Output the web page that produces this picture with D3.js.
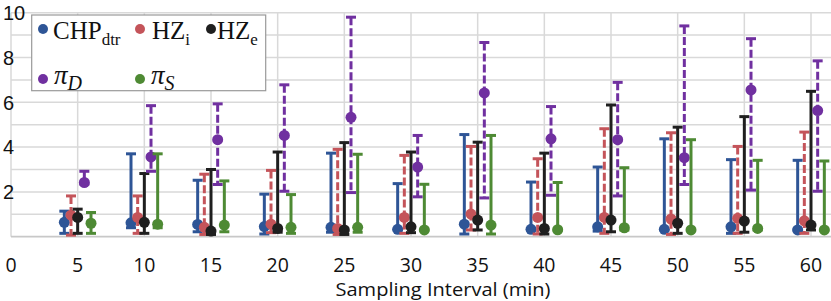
<!DOCTYPE html>
<html><head><meta charset="utf-8">
<script src="https://cdn.jsdelivr.net/npm/d3@7"></script>
<style>html,body{margin:0;padding:0;background:#fff;overflow:hidden}</style>
</head><body><svg id="c" width="831" height="301"></svg>
<script>
const categories = [5,10,15,20,25,30,35,40,45,50,55,60];
const xTicks = [0,5,10,15,20,25,30,35,40,45,50,55,60];
const yTicks = [2,4,6,8,10];

const chpMean = [0.64,0.62,0.55,0.45,0.42,0.33,0.56,0.33,0.44,0.33,0.44,0.30];
const chpHigh = [1.14,3.70,2.52,1.90,3.73,2.37,4.56,2.44,3.11,4.37,3.44,3.41];
const chpLow  = [0.15,0.40,0.22,0.12,0.20,0.30,0.12,0.30,0.25,0.30,0.15,0.30];

const hziMean = [0.96,0.86,0.42,0.56,0.37,0.86,1.01,0.86,0.86,0.79,0.82,0.71];
const hziHigh = [1.82,1.82,2.79,2.96,3.90,3.63,4.03,3.48,4.82,4.64,4.03,4.67];
const hziLow  = [0.07,0.15,0.10,0.18,0.10,0.15,0.30,0.12,0.15,0.10,0.15,0.15];

const hzeMean = [0.86,0.64,0.25,0.37,0.30,0.44,0.74,0.37,0.74,0.60,0.70,0.52];
const hzeHigh = [1.23,2.82,3.00,3.78,4.20,3.78,4.22,3.73,5.88,4.89,5.36,6.49];
const hzeLow  = [0.15,0.15,0.10,0.20,0.10,0.18,0.30,0.12,0.22,0.15,0.20,0.30];

const piDMean = [2.42,3.56,4.33,4.52,5.33,3.11,6.42,4.37,4.33,3.53,6.55,5.63];
const piDHigh = [2.92,5.85,5.93,6.78,9.80,4.52,8.67,5.81,6.89,9.41,8.84,7.85];
const piDLow  = [2.35,2.92,2.33,2.03,1.97,1.78,1.73,1.85,1.82,2.33,2.08,2.03];

const piSMean = [0.60,0.56,0.52,0.42,0.42,0.30,0.52,0.31,0.40,0.30,0.37,0.30];
const piSHigh = [1.08,3.70,2.49,1.88,3.68,2.34,4.52,2.42,3.08,4.33,3.41,3.38];
const piSLow  = [0.15,0.40,0.22,0.15,0.20,0.30,0.12,0.30,0.30,0.30,0.30,0.30];

// layout / style (not data)
const series = [
  {mean: chpMean, hi: chpHigh, lo: chpLow, color: "#2E5596", dash: null, off: -1},
  {mean: hziMean, hi: hziHigh, lo: hziLow, color: "#C4545A", dash: "8,3", off: -0.5},
  {mean: hzeMean, hi: hzeHigh, lo: hzeLow, color: "#1F1F1F", dash: null, off: 0},
  {mean: piDMean, hi: piDHigh, lo: piDLow, color: "#7030A0", dash: "8,3", off: 0.5},
  {mean: piSMean, hi: piSHigh, lo: piSLow, color: "#4E8A34", dash: null, off: 1}
];

const svg = d3.select("#c");
const x = d3.scaleLinear().domain([0,60]).range([11,811]);
const y = d3.scaleLinear().domain([0,10]).range([236.7,12.7]);

const g = svg.append("g");
g.selectAll("line.h").data(d3.range(1,11)).enter().append("line")
  .attr("x1", x(0)).attr("x2", 831).attr("y1", d=>y(d)).attr("y2", d=>y(d))
  .attr("stroke", "#d9d9d9").attr("stroke-width", 1.5);
g.selectAll("line.v").data(xTicks.slice(1)).enter().append("line")
  .attr("x1", d=>x(d)).attr("x2", d=>x(d)).attr("y1", y(10)).attr("y2", y(0))
  .attr("stroke", "#d9d9d9").attr("stroke-width", 1.5);
g.append("line").attr("x1", x(0)).attr("x2", x(0)).attr("y1", y(10)).attr("y2", y(0))
  .attr("stroke", "#d9d9d9").attr("stroke-width", 1.5);
g.append("line").attr("x1", x(0)).attr("x2", 831).attr("y1", y(0)).attr("y2", y(0))
  .attr("stroke", "#c8c8c8").attr("stroke-width", 1.8);

svg.append("g").selectAll("text").data(yTicks).enter().append("text")
  .attr("x", 3).attr("y", d=>y(d)).attr("dy", "0.36em")
  .attr("font-family", "'Liberation Sans', Arial, sans-serif").attr("font-size", 20)
  .attr("fill", "#111").text(d=>d);

svg.append("g").selectAll("text").data(xTicks).enter().append("text")
  .attr("x", d=>x(d)).attr("y", 272.3).attr("text-anchor", "middle")
  .attr("font-family", "'Open Sans', sans-serif").attr("font-size", 19.5)
  .attr("fill", "#111").text(d=>d);

svg.append("text").attr("x", 443).attr("y", 295.5).attr("text-anchor", "middle")
  .attr("font-family", "'Open Sans', sans-serif").attr("font-size", 18)
  .attr("textLength", 215).attr("lengthAdjust", "spacingAndGlyphs")
  .attr("fill", "#111").text("Sampling Interval (min)");

const capW = 5;
series.forEach(s => {
  const sg = svg.append("g");
  const pts = categories.map((c,i)=>({x: c + s.off, m: s.mean[i], hi: s.hi[i], lo: s.lo[i]}));
  sg.selectAll("line.bar").data(pts).enter().append("line")
    .attr("x1", d=>x(d.x)).attr("x2", d=>x(d.x)).attr("y1", d=>y(d.hi)).attr("y2", d=>y(d.lo))
    .attr("stroke", s.color).attr("stroke-width", 3).attr("stroke-dasharray", s.dash);
  ["hi","lo"].forEach(k => {
    sg.selectAll("line.cap"+k).data(pts).enter().append("line")
      .attr("x1", d=>x(d.x)-capW).attr("x2", d=>x(d.x)+capW).attr("y1", d=>y(d[k])).attr("y2", d=>y(d[k]))
      .attr("stroke", s.color).attr("stroke-width", 3);
  });
  sg.selectAll("circle").data(pts).enter().append("circle")
    .attr("cx", d=>x(d.x)).attr("cy", d=>y(d.m)).attr("r", 5.5).attr("fill", s.color);
});

const lg = svg.append("g");
lg.append("rect").attr("x", 31.7).attr("y", 15).attr("width", 234).attr("height", 75.7)
  .attr("fill", "#fff").attr("stroke", "#999").attr("stroke-width", 1.2);
const legendItems = [
  {color: series[0].color, cx: 43, cy: 29, tx: 53, ty: 39.3, main: "CHP", sub: "dtr", italic: false},
  {color: series[1].color, cx: 140, cy: 29, tx: 152, ty: 39.3, main: "HZ", sub: "i", italic: false},
  {color: series[2].color, cx: 211, cy: 29, tx: 217, ty: 39.3, main: "HZ", sub: "e", italic: false},
  {color: series[3].color, cx: 43, cy: 79, tx: 54, ty: 83.5, main: "π", sub: "D", italic: true},
  {color: series[4].color, cx: 140, cy: 79, tx: 151, ty: 83.5, main: "π", sub: "S", italic: true}
];
legendItems.forEach(it => {
  lg.append("circle").attr("cx", it.cx).attr("cy", it.cy).attr("r", 5).attr("fill", it.color);
  const t = lg.append("text").attr("x", it.tx).attr("y", it.ty)
    .attr("font-family", "'Liberation Serif', 'DejaVu Serif', serif").attr("fill", "#111");
  t.append("tspan").attr("font-size", it.italic ? 27 : 25).attr("font-style", it.italic ? "italic" : null).text(it.main);
  t.append("tspan").attr("font-size", it.italic ? 20 : 17).attr("dy", 6)
    .attr("font-style", it.italic ? "italic" : null).text(it.sub);
});
</script></body></html>
